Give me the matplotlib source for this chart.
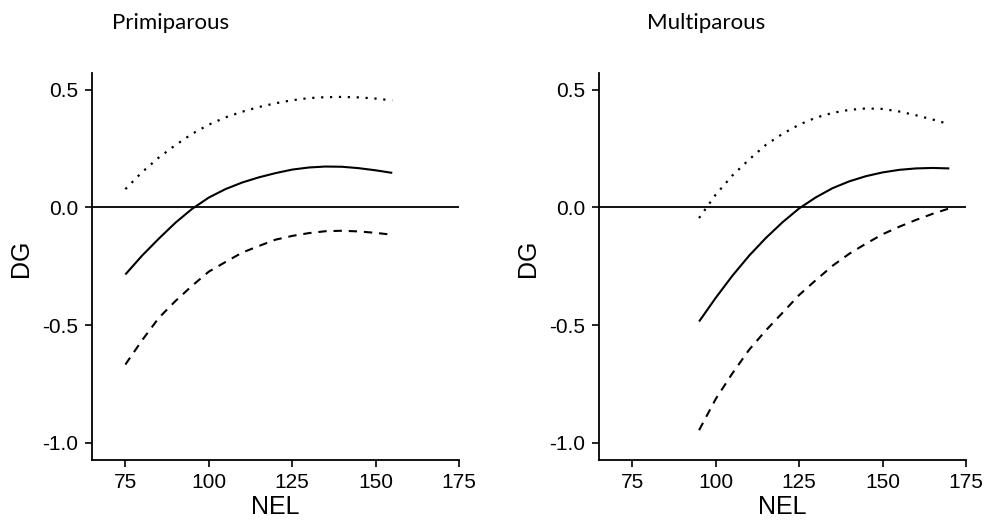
import matplotlib
matplotlib.use("Agg")
import matplotlib.pyplot as plt

# values (NEL on x, DG on y)
prim_nel = [75, 80, 85, 90, 95, 100, 105, 110, 115, 120, 125, 130, 135, 140, 145, 150, 155]
prim_mid = [-0.285, -0.205, -0.133, -0.065, -0.006, 0.042, 0.078, 0.106, 0.128, 0.146,
            0.161, 0.170, 0.174, 0.173, 0.167, 0.158, 0.147]
prim_upper = [0.078, 0.150, 0.212, 0.265, 0.313, 0.352, 0.383, 0.407, 0.427, 0.443,
              0.456, 0.465, 0.469, 0.470, 0.468, 0.463, 0.455]
prim_lower = [-0.668, -0.565, -0.470, -0.398, -0.333, -0.273, -0.232, -0.192, -0.164, -0.137,
              -0.121, -0.109, -0.101, -0.099, -0.102, -0.108, -0.116]

multi_nel = [95, 100, 105, 110, 115, 120, 125, 130, 135, 140, 145, 150, 155, 160, 165, 170]
multi_mid = [-0.485, -0.384, -0.290, -0.205, -0.130, -0.063, -0.004, 0.043, 0.082, 0.111,
             0.133, 0.149, 0.160, 0.166, 0.168, 0.166]
multi_upper = [-0.045, 0.055, 0.136, 0.204, 0.266, 0.313, 0.352, 0.382, 0.402, 0.415,
               0.421, 0.419, 0.408, 0.392, 0.374, 0.354]
multi_lower = [-0.947, -0.814, -0.705, -0.605, -0.523, -0.448, -0.372, -0.309, -0.248, -0.197,
               -0.154, -0.114, -0.082, -0.053, -0.027, -0.004]

titles = ["Primiparous", "Multiparous"]
xticks = [75, 100, 125, 150, 175]
yticks = [-1.0, -0.5, 0.0, 0.5]

plt.rcParams['font.family'] = ['Liberation Sans', 'DejaVu Sans']

fig = plt.figure(figsize=(9.86, 5.21), dpi=100)
ax1 = fig.add_axes([0.0933, 0.117, 0.3722, 0.743])
ax2 = fig.add_axes([0.6075, 0.117, 0.3722, 0.743])

panels = [
    (ax1, prim_nel, prim_mid, prim_upper, prim_lower),
    (ax2, multi_nel, multi_mid, multi_upper, multi_lower),
]

for ax, x, mid, up, lo in panels:
    ax.plot(x, mid, color='black', lw=1.5, solid_capstyle='butt')
    ax.plot(x, up, color='black', lw=1.6, linestyle=(0, (1, 3)))
    ax.plot(x, lo, color='black', lw=1.5, linestyle=(0, (4, 3.3)))
    ax.axhline(0, color='black', lw=1.3)

    ax.set_xlim(65, 175)
    ax.set_ylim(-1.074, 0.572)
    ax.set_xticks(xticks)
    ax.set_yticks(yticks)
    ax.set_yticklabels(["%.1f" % v for v in yticks])

    for s in ['top', 'right']:
        ax.spines[s].set_visible(False)
    for s in ['left', 'bottom']:
        ax.spines[s].set_linewidth(1.3)
    ax.tick_params(direction='out', length=5, width=1.2, labelsize=15, colors='black')
    ax.tick_params(axis='x', pad=4)
    ax.tick_params(axis='y', pad=5)

    ax.set_xlabel("NEL", fontsize=18)
    ax.set_ylabel("DG", fontsize=18)
    ax.xaxis.set_label_coords(0.5, -0.09)
    ax.yaxis.set_label_coords(-0.161, 0.52)

fig.text(112 / 986, 1 - 29 / 521, titles[0], family=['Lato', 'DejaVu Sans'],
         fontsize=16, ha='left', va='baseline')
fig.text(647 / 986, 1 - 29 / 521, titles[1], family=['Lato', 'DejaVu Sans'],
         fontsize=16, ha='left', va='baseline')

fig.savefig("out.png", dpi=100)
